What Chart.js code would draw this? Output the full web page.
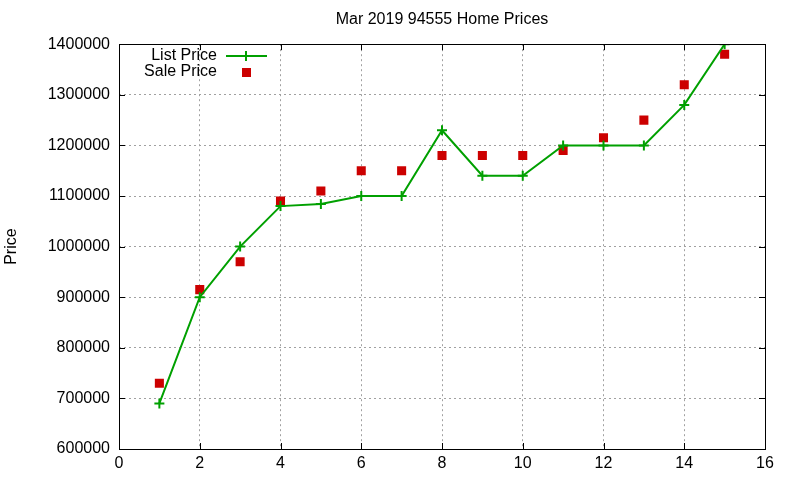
<!DOCTYPE html>
<html>
<head>
<meta charset="utf-8">
<script src="https://cdn.jsdelivr.net/npm/chart.js@4"></script>
<style>
  html,body{margin:0;padding:0;background:#fff;}
  #wrap{width:800px;height:480px;}
</style>
</head>
<body>
<div id="wrap"><canvas id="mychart" width="800" height="480"></canvas></div>
<script>
// month index 1..15 and prices
var months=[1,2,3,4,5,6,7,8,9,10,11,12,13,14,15];
var listPrice=[690000,900000,1000000,1080000,1084000,1100000,1100000,1230000,1140000,1140000,1200000,1200000,1200000,1280000,1400000];
var salePrice=[730000,915000,970000,1090000,1110000,1150000,1150000,1180000,1180000,1180000,1190000,1215000,1250000,1320000,1380000];
var xTicks=[0,2,4,6,8,10,12,14,16];
var yTicks=[600000,700000,800000,900000,1000000,1100000,1200000,1300000,1400000];

var green="#00a000";
var red="#cc0000";

Chart.defaults.font.family="'Liberation Sans', Arial, sans-serif";
Chart.defaults.font.size=16;
Chart.defaults.color="#000";

function toPoints(xs,ys){
  return xs.map(function(x,i){return {x:x,y:ys[i]};});
}

// gnuplot style frame, inward ticks and key
var framePlugin={
  id:'frame',
  afterDatasetsDraw:function(chart){
    var c=chart.ctx, a=chart.chartArea;
    var xs=chart.scales.x, ys=chart.scales.y;
    c.save();
    c.strokeStyle="#000";
    c.lineWidth=1;
    c.beginPath();
    xTicks.forEach(function(v){
      var px=Math.round(xs.getPixelForValue(v))+0.5;
      c.moveTo(px,a.bottom);c.lineTo(px,a.bottom-6);
      c.moveTo(px,a.top);c.lineTo(px,a.top+6);
    });
    yTicks.forEach(function(v){
      var py=Math.round(ys.getPixelForValue(v))+0.5;
      c.moveTo(a.left,py);c.lineTo(a.left+6,py);
      c.moveTo(a.right,py);c.lineTo(a.right-6,py);
    });
    c.stroke();
    c.strokeRect(Math.round(a.left)+0.5,Math.round(a.top)+0.5,Math.round(a.right-a.left),Math.round(a.bottom-a.top));

    // key
    c.font="16px 'Liberation Sans', Arial, sans-serif";
    c.fillStyle="#000";
    c.textAlign="right";
    c.textBaseline="middle";
    c.fillText("List Price",217,56);
    c.fillText("Sale Price",217,72);
    c.strokeStyle=green;
    c.lineWidth=2;
    c.beginPath();
    c.moveTo(226,56);c.lineTo(267,56);
    c.moveTo(246,51);c.lineTo(246,61);
    c.stroke();
    c.fillStyle=red;
    c.fillRect(242,68,9,9);
    c.restore();
  }
};

new Chart(document.getElementById('mychart'),{
  type:'scatter',
  data:{
    datasets:[{
      label:'List Price',
      data:toPoints(months,listPrice),
      showLine:true,
      borderColor:green,
      backgroundColor:green,
      borderWidth:2,
      pointStyle:'cross',
      pointRadius:5,
      pointBorderWidth:2,
      pointHoverRadius:5,
      tension:0
    },{
      label:'Sale Price',
      data:toPoints(months,salePrice),
      showLine:false,
      borderColor:red,
      backgroundColor:red,
      pointStyle:'rect',
      pointRadius:6.4,
      pointBorderWidth:0,
      pointHoverRadius:6.4
    }]
  },
  options:{
    responsive:false,
    animation:false,
    layout:{padding:{left:0,right:35,top:0,bottom:0}},
    plugins:{
      legend:{display:false},
      tooltip:{enabled:false},
      title:{
        display:true,
        fullSize:false,
        text:'Mar 2019 94555 Home Prices',
        font:{size:16,weight:'normal'},
        padding:{top:10,bottom:15}
      }
    },
    scales:{
      x:{
        type:'linear',
        min:0,max:16,
        afterBuildTicks:function(s){s.ticks=xTicks.map(function(v){return {value:v};});},
        afterFit:function(s){s.height=31;},
        border:{display:false,dash:[2,3]},
        grid:{color:'#a0a0a0',drawTicks:false,lineWidth:1},
        ticks:{padding:5,maxRotation:0}
      },
      y:{
        type:'linear',
        min:600000,max:1400000,
        afterBuildTicks:function(s){s.ticks=yTicks.map(function(v){return {value:v};});},
        afterFit:function(s){s.width=119;},
        border:{display:false,dash:[2,3]},
        grid:{color:'#a0a0a0',drawTicks:false,lineWidth:1},
        ticks:{padding:9,callback:function(v){return String(v);}},
        title:{display:true,text:'Price',font:{size:16},padding:{top:2,bottom:0}}
      }
    }
  },
  plugins:[framePlugin]
});
</script>
</body>
</html>
